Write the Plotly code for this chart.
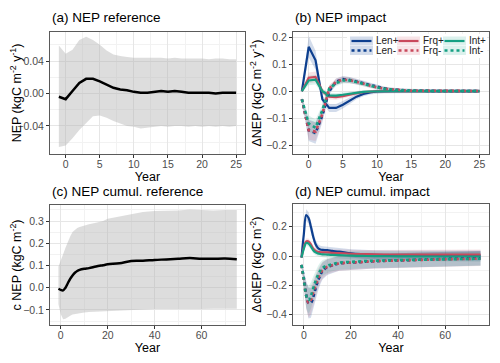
import plotly.graph_objects as go

FONT = "Liberation Sans, Arial, sans-serif"

# ---- (a) NEP reference ----
yr_a = list(range(-1, 26))
nep_mean = [-0.004, -0.007, 0.003, 0.013, 0.018, 0.018, 0.015, 0.011, 0.007, 0.005, 0.004,
            0.002, 0.001, 0.001, 0.002, 0.003, 0.002, 0.003, 0.002, 0.001, 0.001, 0.001,
            0.001, 0.000, 0.001, 0.001, 0.001]
nep_hi = [0.059, 0.049, 0.054, 0.066, 0.070, 0.066, 0.060, 0.053, 0.048, 0.046, 0.045,
          0.044, 0.044, 0.044, 0.044, 0.044, 0.043, 0.044, 0.043, 0.043, 0.043, 0.043,
          0.042, 0.043, 0.043, 0.042, 0.042]
nep_lo = [-0.066, -0.064, -0.055, -0.045, -0.036, -0.028, -0.027, -0.030, -0.034, -0.037, -0.040,
          -0.041, -0.043, -0.042, -0.041, -0.040, -0.041, -0.040, -0.040, -0.041, -0.040, -0.041,
          -0.040, -0.041, -0.040, -0.041, -0.040]

# ---- (b) NEP impact ----
yr_b = list(range(-1, 26))
imp = {
    "Len+": [0.0, 0.165, 0.115, -0.030, -0.062, -0.062, -0.050, -0.035, -0.020, -0.010, -0.004,
             -0.001] + [0.0] * 15,
    "Frq+": [0.0, 0.050, 0.053, 0.000, -0.020, -0.022, -0.018, -0.012, -0.007, -0.003, -0.001,
             0.0] + [0.0] * 15,
    "Int+": [0.0, 0.040, 0.043, 0.000, -0.015, -0.016, -0.013, -0.009, -0.005, -0.002, -0.001,
             0.0] + [0.0] * 15,
    "Len-": [-0.030, -0.145, -0.155, -0.090, 0.000, 0.035, 0.045, 0.042, 0.036, 0.030, 0.022,
             0.016, 0.011, 0.007, 0.005, 0.003, 0.002, 0.002, 0.001, 0.001, 0.001, 0.001,
             0.001, 0.001, 0.001, 0.001, 0.001],
    "Frq-": [-0.030, -0.145, -0.150, -0.085, 0.010, 0.035, 0.043, 0.041, 0.035, 0.028, 0.020,
             0.014, 0.010, 0.007, 0.005, 0.003, 0.002, 0.002, 0.001, 0.001, 0.001, 0.001,
             0.001, 0.001, 0.001, 0.001, 0.001],
    "Int-": [-0.030, -0.120, -0.135, -0.070, 0.010, 0.030, 0.040, 0.040, 0.034, 0.027, 0.020,
             0.014, 0.010, 0.006, 0.004, 0.003, 0.002, 0.002, 0.001, 0.001, 0.001, 0.001,
             0.001, 0.001, 0.001, 0.001, 0.001],
}
imp_sd = {
    "Len+": [0.005, 0.040, 0.035, 0.015, 0.015, 0.015, 0.014, 0.012, 0.010, 0.009, 0.008,
             0.008, 0.007, 0.007, 0.007, 0.006, 0.006, 0.006, 0.006, 0.006, 0.006, 0.006,
             0.006, 0.006, 0.006, 0.006, 0.006],
    "Frq+": [0.004, 0.020, 0.020, 0.010, 0.010, 0.010, 0.009, 0.008, 0.007, 0.006, 0.006,
             0.005, 0.005, 0.005, 0.005, 0.005, 0.005, 0.005, 0.005, 0.005, 0.005, 0.005,
             0.005, 0.005, 0.005, 0.005, 0.005],
    "Int+": [0.004, 0.018, 0.018, 0.010, 0.009, 0.009, 0.008, 0.007, 0.006, 0.006, 0.005,
             0.005, 0.005, 0.005, 0.005, 0.005, 0.005, 0.005, 0.005, 0.005, 0.005, 0.005,
             0.005, 0.005, 0.005, 0.005, 0.005],
    "Len-": [0.008, 0.040, 0.040, 0.025, 0.012, 0.012, 0.012, 0.011, 0.010, 0.009, 0.008,
             0.008, 0.007, 0.007, 0.006, 0.006, 0.006, 0.006, 0.006, 0.006, 0.006, 0.006,
             0.006, 0.006, 0.006, 0.006, 0.006],
    "Frq-": [0.008, 0.035, 0.035, 0.022, 0.012, 0.012, 0.012, 0.011, 0.010, 0.009, 0.008,
             0.007, 0.007, 0.006, 0.006, 0.006, 0.006, 0.006, 0.006, 0.006, 0.006, 0.006,
             0.006, 0.006, 0.006, 0.006, 0.006],
    "Int-": [0.008, 0.030, 0.030, 0.020, 0.012, 0.011, 0.011, 0.010, 0.009, 0.008, 0.008,
             0.007, 0.007, 0.006, 0.006, 0.006, 0.006, 0.006, 0.006, 0.006, 0.006, 0.006,
             0.006, 0.006, 0.006, 0.006, 0.006],
}

# ---- (c) NEP cumulative reference ----
yr_c = [-1, 0, 1, 2, 3, 4, 5, 6, 7, 8, 10, 12, 15, 18, 20, 25, 30, 35, 40, 45, 50, 55, 60, 65, 70, 75]
cnep_mean = [-0.005, -0.010, -0.012, 0.000, 0.020, 0.040, 0.055, 0.067, 0.075, 0.080, 0.085,
             0.088, 0.095, 0.101, 0.105, 0.110, 0.120, 0.121, 0.125, 0.127, 0.130, 0.133,
             0.130, 0.130, 0.131, 0.128]
cnep_hi = [0.095, 0.120, 0.150, 0.180, 0.210, 0.230, 0.250, 0.260, 0.268, 0.273, 0.280,
           0.285, 0.292, 0.300, 0.310, 0.320, 0.330, 0.340, 0.345, 0.345, 0.347, 0.352,
           0.348, 0.347, 0.350, 0.350]
cnep_lo = [-0.075, -0.120, -0.142, -0.140, -0.132, -0.126, -0.121, -0.118, -0.116, -0.115,
           -0.112, -0.110, -0.106, -0.105, -0.105, -0.102, -0.100, -0.098, -0.096, -0.096,
           -0.095, -0.095, -0.096, -0.095, -0.094, -0.095]

# ---- (d) NEP cumulative impact ----
yr_d = [-1, 0, 1, 2, 3, 4, 5, 6, 7, 8, 10, 12, 15, 20, 25, 30, 40, 50, 60, 75]
cimp = {
    "Len+": [-0.010, 0.150, 0.280, 0.260, 0.200, 0.130, 0.080, 0.055, 0.045, 0.042, 0.040,
             0.035, 0.030, 0.018, 0.012, 0.008, 0.005, 0.004, 0.004, 0.003],
    "Frq+": [-0.010, 0.060, 0.100, 0.100, 0.080, 0.050, 0.035, 0.028, 0.026, 0.025, 0.025,
             0.022, 0.020, 0.015, 0.013, 0.012, 0.010, 0.010, 0.010, 0.010],
    "Int+": [-0.010, 0.050, 0.090, 0.085, 0.065, 0.040, 0.025, 0.018, 0.014, 0.012, 0.010,
             0.008, 0.006, 0.003, 0.001, 0.000, -0.002, -0.003, -0.003, -0.003],
    "Len-": [-0.060, -0.150, -0.260, -0.320, -0.320, -0.280, -0.220, -0.170, -0.130, -0.100,
             -0.075, -0.065, -0.050, -0.045, -0.040, -0.035, -0.030, -0.025, -0.020, -0.015],
    "Frq-": [-0.060, -0.170, -0.270, -0.320, -0.300, -0.250, -0.200, -0.155, -0.120, -0.095,
             -0.072, -0.062, -0.050, -0.045, -0.040, -0.035, -0.030, -0.026, -0.022, -0.018],
    "Int-": [-0.060, -0.160, -0.270, -0.300, -0.270, -0.220, -0.170, -0.130, -0.100, -0.080,
             -0.065, -0.055, -0.045, -0.040, -0.035, -0.032, -0.028, -0.025, -0.022, -0.018],
}
cimp_sd = {
    "Len+": [0.005, 0.030, 0.040, 0.040, 0.035, 0.030, 0.028, 0.026, 0.025, 0.025, 0.025,
             0.025, 0.025, 0.028, 0.030, 0.032, 0.033, 0.034, 0.035, 0.035],
    "Frq+": [0.005, 0.015, 0.020, 0.020, 0.020, 0.020, 0.020, 0.020, 0.020, 0.020, 0.022,
             0.022, 0.024, 0.026, 0.028, 0.030, 0.032, 0.033, 0.034, 0.035],
    "Int+": [0.005, 0.015, 0.020, 0.020, 0.020, 0.020, 0.020, 0.020, 0.020, 0.020, 0.022,
             0.022, 0.024, 0.026, 0.028, 0.030, 0.032, 0.033, 0.034, 0.035],
    "Len-": [0.010, 0.050, 0.090, 0.105, 0.100, 0.090, 0.080, 0.070, 0.062, 0.058, 0.054,
             0.052, 0.050, 0.050, 0.050, 0.050, 0.050, 0.050, 0.050, 0.050],
    "Frq-": [0.010, 0.050, 0.090, 0.100, 0.095, 0.085, 0.075, 0.066, 0.060, 0.056, 0.052,
             0.050, 0.050, 0.050, 0.050, 0.050, 0.050, 0.050, 0.050, 0.050],
    "Int-": [0.010, 0.050, 0.085, 0.095, 0.090, 0.080, 0.070, 0.062, 0.057, 0.054, 0.050,
             0.048, 0.048, 0.048, 0.048, 0.048, 0.048, 0.048, 0.048, 0.048],
}

colors = {"Len": "#0d3f8f", "Frq": "#c9495c", "Int": "#14a083"}
fills = {"Len": "rgba(13,63,143,0.18)", "Frq": "rgba(201,73,92,0.15)", "Int": "rgba(20,160,131,0.15)"}
order = ["Len+", "Frq+", "Int+", "Len-", "Frq-", "Int-"]

# page body has an 8px margin, so the figure is drawn 8px in from the corner
OFF = 8
W, H = 500 - OFF, 363 - OFF


def px(x):
    return (x - OFF) / W


def py(y):
    return 1 - (y - OFF) / H


fig = go.Figure()


def band(x, lo, hi, color, xa, ya):
    fig.add_trace(go.Scatter(x=list(x) + list(x)[::-1], y=list(hi) + list(lo)[::-1],
                             fill="toself", fillcolor=color, line=dict(width=0),
                             mode="lines", showlegend=False, hoverinfo="skip",
                             xaxis=xa, yaxis=ya))


# (a)
band(yr_a, nep_lo, nep_hi, "rgba(180,180,180,0.45)", "x", "y")
fig.add_trace(go.Scatter(x=yr_a, y=nep_mean, mode="lines", line=dict(color="black", width=2.5),
                         showlegend=False, xaxis="x", yaxis="y"))

# (c)
band(yr_c, cnep_lo, cnep_hi, "rgba(180,180,180,0.45)", "x3", "y3")
fig.add_trace(go.Scatter(x=yr_c, y=cnep_mean, mode="lines",
                         line=dict(color="black", width=2.5, shape="spline"),
                         showlegend=False, xaxis="x3", yaxis="y3"))

# (b) and (d)
for data, sd, xs, xa, ya in [(imp, imp_sd, yr_b, "x2", "y2"), (cimp, cimp_sd, yr_d, "x4", "y4")]:
    for k in order:
        g = k[:3]
        lo = [m - s for m, s in zip(data[k], sd[k])]
        hi = [m + s for m, s in zip(data[k], sd[k])]
        band(xs, lo, hi, fills[g], xa, ya)
    for k in order:
        g = k[:3]
        solid = k.endswith("+")
        fig.add_trace(go.Scatter(
            x=xs, y=data[k], mode="lines", name=k,
            line=dict(color=colors[g], width=2.2 if solid else 2.6,
                      dash="solid" if solid else "dot",
                      shape="spline" if xa == "x4" else "linear"),
            showlegend=False, xaxis=xa, yaxis=ya))

tick_font = dict(family=FONT, size=10.5, color="#4d4d4d")
title_font = dict(family=FONT, size=12.5, color="black")


def xax(domain, rng, dtick, anchor):
    return dict(domain=domain, range=rng, dtick=dtick, tick0=0, anchor=anchor,
                showline=True, mirror=True, linecolor="#5a5a5a", linewidth=1,
                ticks="outside", ticklen=3, tickcolor="#333333", tickfont=tick_font,
                ticklabelstandoff=-3,
                gridcolor="#e6e6e6", gridwidth=1, zeroline=False,
                minor=dict(showgrid=True, gridcolor="#f2f2f2", dtick=dtick / 2, tick0=0),
                title=dict(text="Year", font=title_font, standoff=1))


def yax(domain, rng, dtick, anchor, title, fmt):
    return dict(domain=domain, range=rng, dtick=dtick, tick0=0, anchor=anchor,
                showline=True, mirror=True, linecolor="#5a5a5a", linewidth=1,
                ticks="outside", ticklen=3, tickcolor="#333333", tickfont=tick_font,
                tickformat=fmt, gridcolor="#e6e6e6", gridwidth=1, zeroline=False,
                minor=dict(showgrid=True, gridcolor="#f2f2f2", dtick=dtick / 2, tick0=0),
                title=dict(text=title, font=title_font, standoff=1))


xa_dom = [px(50), px(245)]
xb_dom = [px(293), px(489)]
top_dom = [py(154), py(32)]
bot_dom = [py(325), py(205)]

fig.update_layout(
    width=W, height=H, margin=dict(l=0, r=0, t=0, b=0),
    paper_bgcolor="white", plot_bgcolor="white",
    font=dict(family=FONT),
    xaxis=xax(xa_dom, [-2.3, 26.3], 5, "y"),
    yaxis=yax(top_dom, [-0.0745, 0.0757], 0.04, "x", "NEP (kgC m<sup>-2</sup> y<sup>-1</sup>)", ".2f"),
    xaxis2=xax(xb_dom, [-2.3, 26.4], 5, "y2"),
    yaxis2=yax(top_dom, [-0.233, 0.22], 0.1, "x2", "ΔNEP (kgC m<sup>-2</sup> y<sup>-1</sup>)", ".1f"),
    xaxis3=xax(xa_dom, [-4.6, 78.5], 20, "y3"),
    yaxis3=yax(bot_dom, [-0.168, 0.372], 0.1, "x3", "c NEP (kgC m<sup>-2</sup>)", ".1f"),
    xaxis4=xax(xb_dom, [-4.6, 78.6], 20, "y4"),
    yaxis4=yax([py(325), py(204)], [-0.47, 0.355], 0.2, "x4", "ΔcNEP (kgC m<sup>-2</sup>)", ".1f"),
)

titles = [("(a) NEP reference", 50, 18), ("(b) NEP impact", 293, 18),
          ("(c) NEP cumul. reference", 50, 191), ("(d) NEP cumul. impact", 293, 191)]
for text, tx, ty in titles:
    fig.add_annotation(text=text, x=px(tx), y=py(ty), xref="paper", yref="paper",
                       xanchor="left", yanchor="middle", showarrow=False,
                       font=dict(family=FONT, size=13.5, color="black"))

# legend of panel (b): 3 columns x 2 rows, keys drawn with band background
fig.add_shape(type="rect", xref="paper", yref="paper", x0=px(347), x1=px(487), y0=py(58), y1=py(34),
              fillcolor="white", line=dict(width=0), layer="above")
key_x = {"Len": 350, "Frq": 397, "Int": 443}
row_y = {"+": 41, "-": 50.5}
for k in order:
    g, s = k[:3], k[3]
    x0, yc = key_x[g], row_y[s]
    fig.add_shape(type="rect", xref="paper", yref="paper", x0=px(x0), x1=px(x0 + 23),
                  y0=py(yc + 4.5), y1=py(yc - 4.5), fillcolor=fills[g], line=dict(width=0),
                  layer="above")
    fig.add_shape(type="line", xref="paper", yref="paper", x0=px(x0 + 1.5), x1=px(x0 + 21.5),
                  y0=py(yc), y1=py(yc), layer="above",
                  line=dict(color=colors[g], width=2.2 if s == "+" else 2.6,
                            dash="solid" if s == "+" else "dot"))
    fig.add_annotation(text=k, x=px(x0 + 24), y=py(yc), xref="paper", yref="paper",
                       xanchor="left", yanchor="middle", showarrow=False,
                       font=dict(family=FONT, size=10, color="#222222"))

fig.write_html("out.html")
